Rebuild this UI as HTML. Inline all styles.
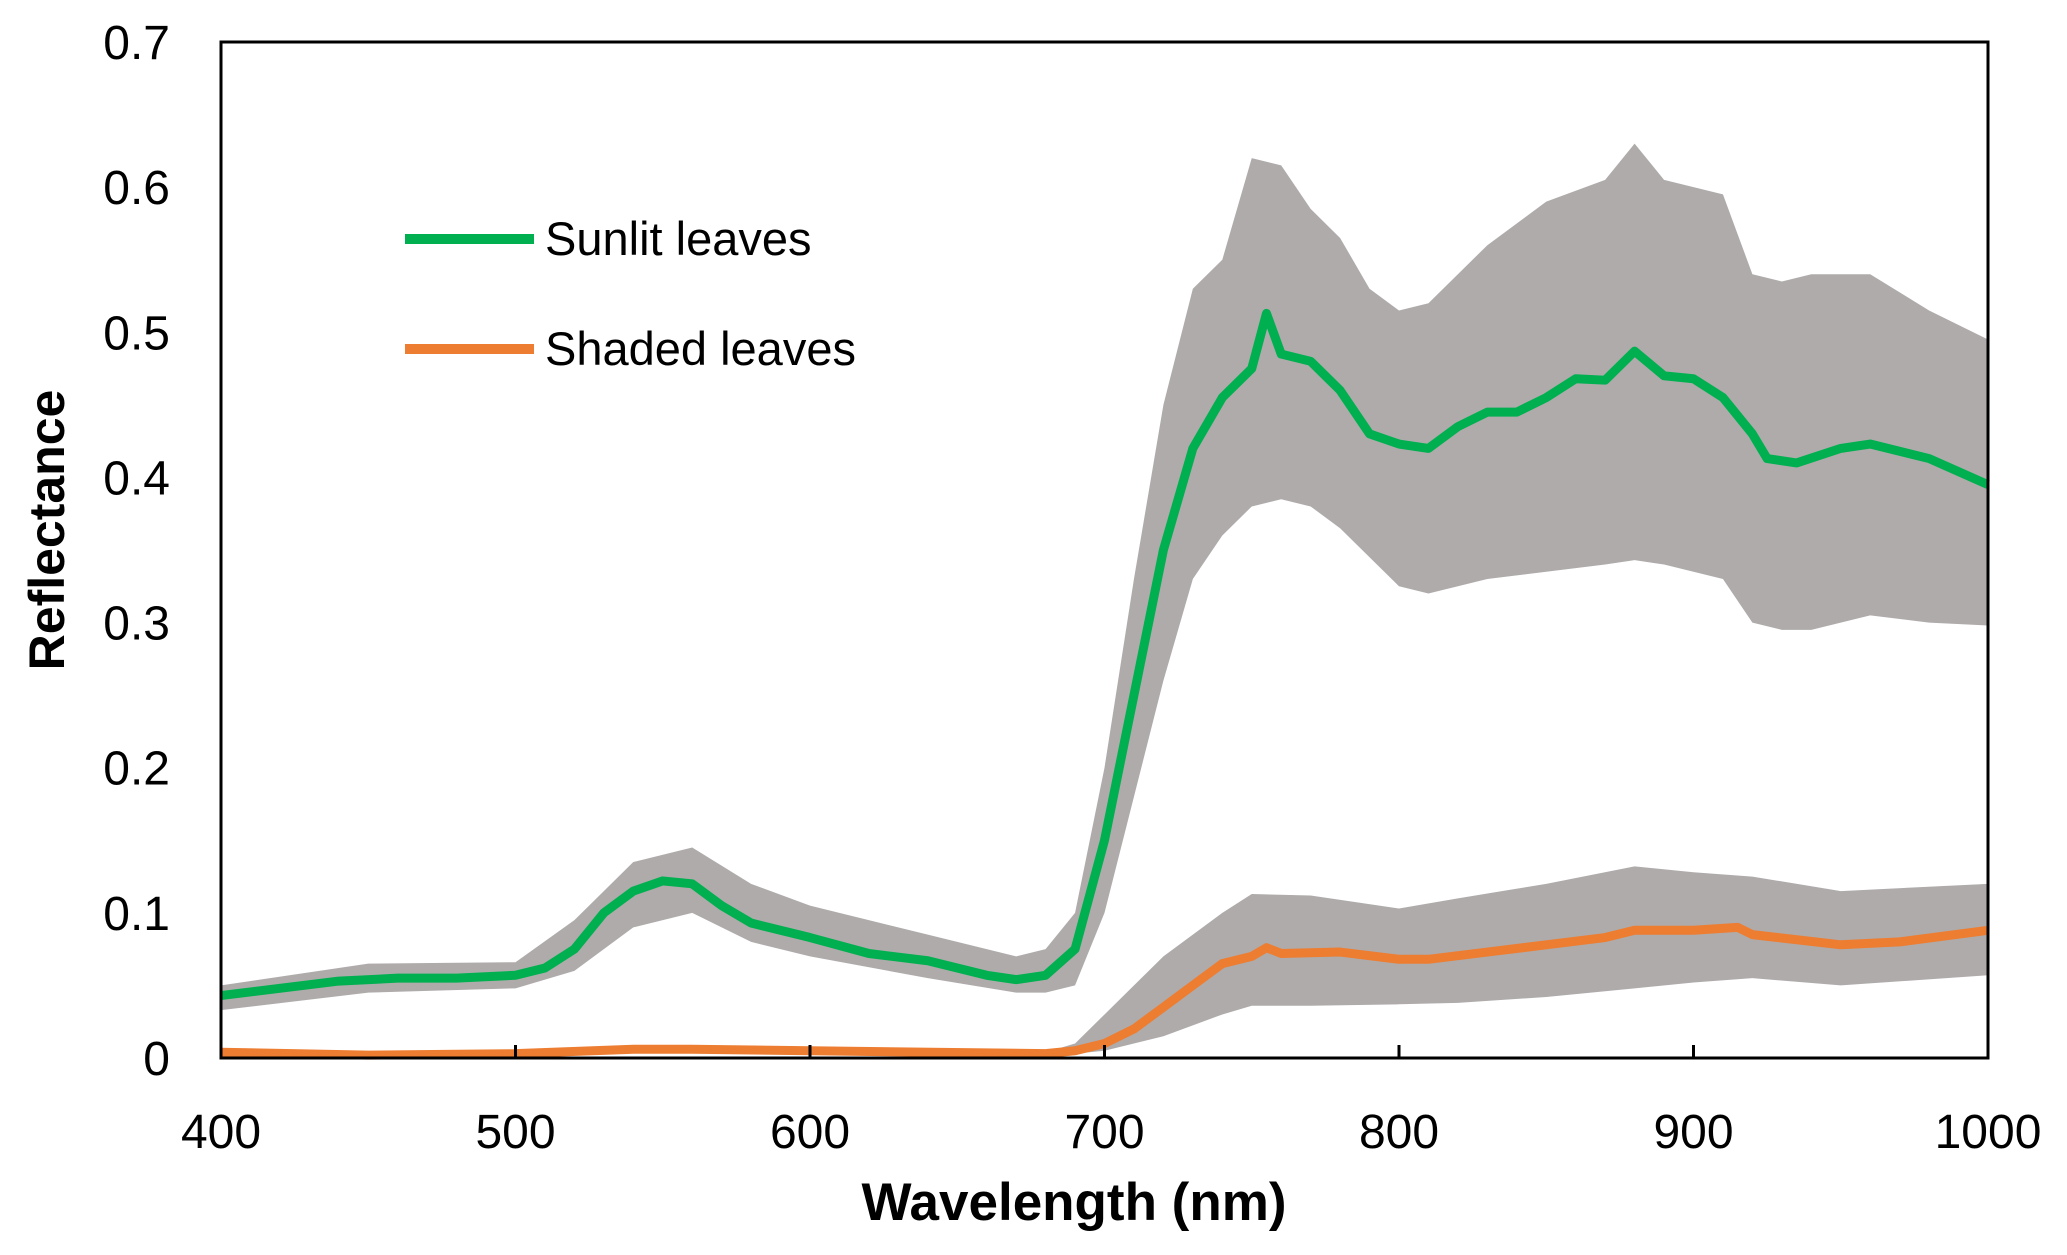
<!DOCTYPE html>
<html><head><meta charset="utf-8"><style>
html,body{margin:0;padding:0;background:#fff;}
svg{display:block;font-family:"Liberation Sans",sans-serif;}
</style></head><body>
<svg id="chart" width="2067" height="1255" viewBox="0 0 2067 1255">
<g id="bands"></g><g id="lines"></g>
<rect x="221" y="42" width="1767" height="1016" fill="none" stroke="#000" stroke-width="3"/>
<g id="axes"></g>
<text x="64" y="530" font-size="50" font-weight="bold" text-anchor="middle" transform="rotate(-90 64 530)">Reflectance</text>
<text x="1074" y="1220" font-size="53" font-weight="bold" text-anchor="middle">Wavelength (nm)</text>
<g>
<line x1="405" y1="239" x2="534" y2="239" stroke="#00b050" stroke-width="10"/>
<text x="545" y="255" font-size="47">Sunlit leaves</text>
<line x1="405" y1="349" x2="534" y2="349" stroke="#ed7d31" stroke-width="10"/>
<text x="545" y="365" font-size="47">Shaded leaves</text>
</g>
</svg>
<script>
const xTicks=[400,500,600,700,800,900,1000];
const yTicks=[0,0.1,0.2,0.3,0.4,0.5,0.6,0.7];
const yTickLabels=["0","0.1","0.2","0.3","0.4","0.5","0.6","0.7"];
const sunWl=[400,420,440,460,480,500,510,520,530,540,550,560,570,580,600,620,640,660,670,680,690,700,710,720,730,740,750,755,760,770,780,790,800,810,820,830,840,850,860,870,880,890,900,910,920,925,935,950,960,980,1000];
const sunMean=[0.043,0.048,0.053,0.055,0.055,0.057,0.062,0.075,0.1,0.115,0.122,0.12,0.105,0.093,0.083,0.072,0.067,0.057,0.054,0.057,0.075,0.15,0.25,0.35,0.42,0.455,0.475,0.513,0.485,0.48,0.46,0.43,0.423,0.42,0.435,0.445,0.445,0.455,0.468,0.467,0.487,0.47,0.468,0.455,0.43,0.413,0.41,0.42,0.423,0.413,0.395];
const sunBandWl=[400,450,500,520,540,560,580,600,640,670,680,690,700,710,720,730,740,750,760,770,780,790,800,810,830,850,870,880,890,900,910,920,930,940,960,980,1000];
const sunUpper=[0.05,0.065,0.066,0.095,0.135,0.145,0.12,0.105,0.085,0.07,0.075,0.1,0.2,0.33,0.45,0.53,0.55,0.62,0.615,0.585,0.565,0.53,0.515,0.52,0.56,0.59,0.605,0.63,0.605,0.6,0.595,0.54,0.535,0.54,0.54,0.515,0.495];
const sunLower=[0.033,0.045,0.048,0.06,0.09,0.1,0.08,0.07,0.055,0.045,0.045,0.05,0.1,0.18,0.26,0.33,0.36,0.38,0.385,0.38,0.365,0.345,0.325,0.32,0.33,0.335,0.34,0.343,0.34,0.335,0.33,0.3,0.295,0.295,0.305,0.3,0.298];
const shWl=[400,450,500,540,560,600,680,690,700,710,720,730,740,750,755,760,780,800,810,830,850,870,880,900,915,920,950,970,1000];
const shMean=[0.004,0.002,0.003,0.006,0.006,0.005,0.003,0.005,0.01,0.02,0.035,0.05,0.065,0.07,0.076,0.072,0.073,0.068,0.068,0.073,0.078,0.083,0.088,0.088,0.09,0.085,0.078,0.08,0.088];
const shBandWl=[680,690,700,720,740,750,770,800,820,850,880,900,920,950,1000];
const shUpper=[0.004,0.01,0.03,0.07,0.1,0.113,0.112,0.103,0.11,0.12,0.132,0.128,0.125,0.115,0.12];
const shLower=[0.002,0.003,0.005,0.015,0.03,0.036,0.036,0.037,0.038,0.042,0.048,0.052,0.055,0.05,0.057];

const NS="http://www.w3.org/2000/svg";
const X=w=>221+(w-400)/600*1767;
const Y=v=>1058-v/0.7*1016;
function mk(tag,attrs,parent){const e=document.createElementNS(NS,tag);for(const k in attrs)e.setAttribute(k,attrs[k]);document.getElementById(parent).appendChild(e);return e;}
function band(wl,up,lo,name){
  let d="M"+wl.map((w,i)=>X(w)+","+Y(up[i])).join("L");
  for(let i=wl.length-1;i>=0;i--)d+="L"+X(wl[i])+","+Y(lo[i]);
  const p=mk("path",{d:d+"Z",fill:"#afabab"},"bands");
  
  
}
function line(wl,v,color,name){
  const p=mk("path",{d:"M"+wl.map((w,i)=>X(w)+","+Y(v[i])).join("L"),fill:"none",stroke:color,"stroke-width":9,"stroke-linejoin":"round"},"lines");
  
  
}
band(sunBandWl,sunUpper,sunLower,"sunlit-sd-band");
band(shBandWl,shUpper,shLower,"shaded-sd-band");
line(sunWl,sunMean,"#00b050","sunlit-line");
line(shWl,shMean,"#ed7d31","shaded-line");
xTicks.forEach(t=>{
  const l=mk("line",{x1:X(t),x2:X(t),y1:1058,y2:1045,stroke:"#000","stroke-width":3},"axes");
  
  
  const tx=mk("text",{x:X(t),y:1148,"font-size":48,"text-anchor":"middle"},"axes");
  tx.textContent=t;
  
  
});
yTicks.forEach((t,i)=>{
  const tx=mk("text",{x:170,y:Y(t)+17,"font-size":48,"text-anchor":"end"},"axes");
  tx.textContent=yTickLabels[i];
  
  
});
</script>
</body></html>
